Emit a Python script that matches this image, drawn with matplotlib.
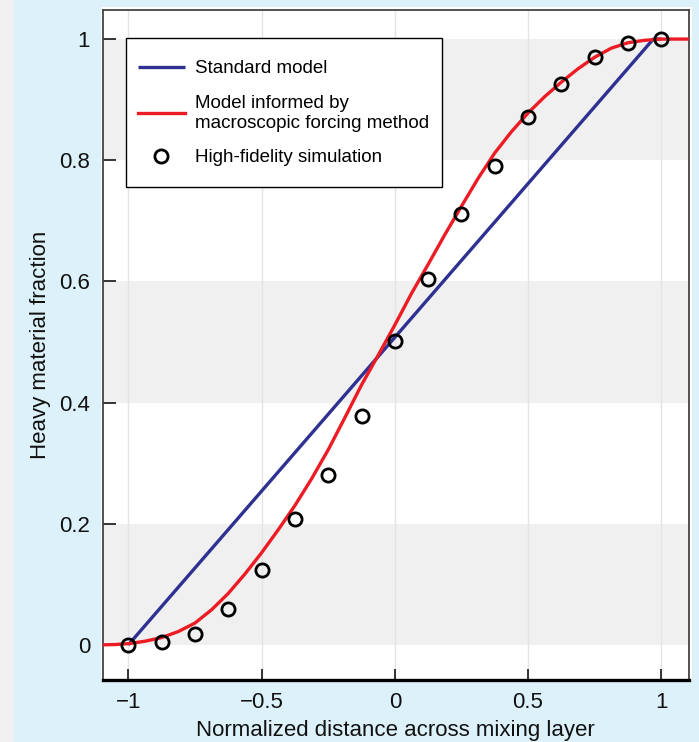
import matplotlib
matplotlib.use("Agg")
import matplotlib.pyplot as plt
from matplotlib.patches import Rectangle

plt.rcParams['font.family'] = ['Liberation Sans', 'DejaVu Sans']

# ---- data ----
sim_x = [-1, -0.875, -0.75, -0.625, -0.5, -0.375, -0.25, -0.125, 0,
         0.125, 0.25, 0.375, 0.5, 0.625, 0.75, 0.875, 1]
sim_y = [0.0, 0.005, 0.018, 0.059, 0.124, 0.208, 0.281, 0.378, 0.502,
         0.604, 0.711, 0.790, 0.871, 0.926, 0.970, 0.993, 1.0]

std_x = [-1, 0.97, 1]
std_y = [0.0, 1.0, 1.0]

mfm_x = [-1.1, -1.05, -1, -0.9375, -0.875, -0.8125, -0.75, -0.6875, -0.625,
         -0.5625, -0.5, -0.4375, -0.375, -0.3125, -0.25, -0.1875, -0.125,
         -0.0625, 0, 0.0625, 0.125, 0.1875, 0.25, 0.3125, 0.375, 0.4375,
         0.5, 0.5625, 0.625, 0.6875, 0.75, 0.8125, 0.875, 0.9375, 1, 1.05, 1.1]
mfm_y = [0.0, 0.0005, 0.002, 0.006, 0.012, 0.022, 0.036, 0.058, 0.085,
         0.117, 0.152, 0.190, 0.230, 0.274, 0.322, 0.375, 0.429,
         0.478, 0.528, 0.580, 0.628, 0.677, 0.724, 0.770, 0.812, 0.847,
         0.878, 0.905, 0.929, 0.951, 0.970, 0.985, 0.994, 0.998, 1.0, 1.0, 1.0]

x_ticks = [-1, -0.5, 0, 0.5, 1]
x_ticklabels = ['\u22121', '\u22120.5', '0', '0.5', '1']
y_ticks = [0, 0.2, 0.4, 0.6, 0.8, 1]
y_ticklabels = ['0', '0.2', '0.4', '0.6', '0.8', '1']
bands = [(0, 0.2), (0.4, 0.6), (0.8, 1.0)]

W, H = 699, 742
fig = plt.figure(figsize=(W / 100, H / 100), dpi=100)
fig.patch.set_facecolor('#F0F0F0')
# light blue panel
fig.patches.append(Rectangle((14 / W, 0), 1 - 14 / W, 1, transform=fig.transFigure,
                             facecolor='#DDF1FA', edgecolor='none', zorder=-10))
# white backing
fig.patches.append(Rectangle((101 / W, (H - 680) / H), (692 - 101) / W, (680 - 7) / H,
                             transform=fig.transFigure, facecolor='white',
                             edgecolor='none', zorder=-9))

ax = fig.add_axes([102.5 / W, (H - 680) / H, (689 - 102.5) / W, (680 - 10) / H])
ax.set_facecolor('white')

for lo, hi in bands:
    ax.axhspan(lo, hi, color='#F0F0F0', lw=0, zorder=0.2)
ax.set_axisbelow(True)
ax.xaxis.grid(True, color='#E4E4E4', lw=1.0)

ax.plot(std_x, std_y, color='#2E3192', lw=2.4, zorder=3, label='Standard model',
        solid_capstyle='butt')
ax.plot(mfm_x, mfm_y, color='#ED1C24', lw=2.4, zorder=4,
        label='Model informed by\nmacroscopic forcing method')
ax.plot(sim_x, sim_y, ls='none', marker='o', ms=9.5, mfc='none', mec='black', mew=2.0,
        zorder=5, label='High-fidelity simulation')

ax.set_xlim(-1.097, 1.104)
ax.set_ylim(-0.058, 1.048)

ax.set_xticks(x_ticks)
ax.set_xticklabels(x_ticklabels)
ax.set_yticks(y_ticks)
ax.set_yticklabels(y_ticklabels)
ax.tick_params(axis='both', direction='in', width=1.1, color='black',
               labelsize=16, labelcolor='#111111')
ax.tick_params(axis='y', length=9.5, pad=9)
ax.tick_params(axis='x', length=8, pad=9)
ax.tick_params(axis='x', top=False)
ax.tick_params(axis='y', right=False)

for s in ['top', 'right', 'left']:
    ax.spines[s].set_color('#444444')
    ax.spines[s].set_linewidth(1.3)
ax.spines['bottom'].set_color('black')
ax.spines['bottom'].set_linewidth(2.4)

ax.set_xlabel('Normalized distance across mixing layer', fontsize=16, color='#111111',
              labelpad=5)
ax.set_ylabel('Heavy material fraction', fontsize=16, color='#111111', labelpad=6)

# legend frame (drawn separately, in figure pixels)
ax.add_patch(Rectangle((126 / W, (H - 187) / H), (442 - 126) / W, (187 - 38) / H,
                       transform=fig.transFigure, facecolor='white',
                       edgecolor='black', lw=1.0, zorder=9, clip_on=False))

leg = ax.legend(loc='upper left', bbox_to_anchor=((137.5 - 102.5) / 586.5, (680 - 60) / 670),
                fontsize=13.5, frameon=False,
                handlelength=2.55, handletextpad=0.52, labelspacing=0.95,
                borderpad=0, borderaxespad=0)
leg.set_zorder(10)

fig.savefig('out.png', dpi=100, facecolor=fig.get_facecolor())
